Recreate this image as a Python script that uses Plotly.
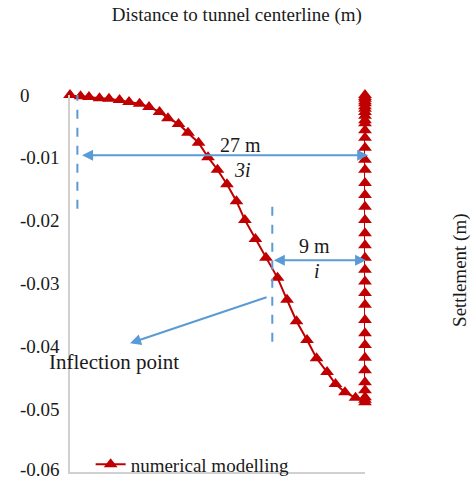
import plotly.graph_objects as go

# Settlement trough (distance from centerline, m ; settlement, m)
curve_x = [-28.0, -27.0, -26.2, -25.2, -24.3, -23.3, -22.4, -21.4, -20.5, -19.5,
           -18.7, -17.7, -16.8, -15.8, -14.9, -14.0, -13.1, -12.2, -11.4, -10.4,
           -9.4, -8.3, -7.4, -6.5, -5.5, -4.6, -3.6, -2.8, -1.9, -0.9, 0.0]
curve_y = [0.0, -0.0002, -0.0003, -0.0005, -0.0006, -0.0008, -0.0011, -0.0014, -0.0019, -0.0027,
           -0.0037, -0.0046, -0.0060, -0.0076, -0.0099, -0.0119, -0.0142, -0.0169, -0.0199, -0.0229,
           -0.0259, -0.0291, -0.0326, -0.0360, -0.0390, -0.0419, -0.0441, -0.0460, -0.0473, -0.0482, -0.0485]
# points along the centerline (bottom to top)
center_y = [-0.0489, -0.0481, -0.0470, -0.0457, -0.0438, -0.0418, -0.0398, -0.0379, -0.0358, -0.0334,
            -0.0315, -0.0297, -0.0278, -0.0259, -0.0239, -0.0220, -0.0199, -0.0178, -0.0159, -0.0140,
            -0.0119, -0.0103, -0.0084, -0.0068, -0.0056, -0.0045, -0.0040, -0.0033, -0.0027, -0.0022,
            -0.0018, -0.0013, -0.0010, -0.0006, -0.0003, 0.0]
center_x = [0.0] * len(center_y)

y_ticks = [0, -0.01, -0.02, -0.03, -0.04, -0.05, -0.06]
y_tick_labels = ["0", "-0.01", "-0.02", "-0.03", "-0.04", "-0.05", "-0.06"]

x_all = curve_x + center_x
y_all = curve_y + center_y

RED = "#C00000"
BLUE = "#5B9BD5"
FONT = "Liberation Serif, Times New Roman, serif"
TXT = "#1a1a1a"

fig = go.Figure()
fig.add_trace(go.Scatter(
    x=x_all, y=y_all, mode="lines+markers", name="numerical modelling",
    line=dict(color=RED, width=2),
    marker=dict(symbol="triangle-up", size=12, color=RED),
    cliponaxis=False,
))

annotations = []
for v, t in zip(y_ticks, y_tick_labels):
    annotations.append(dict(x=-0.176, xref="paper", y=v, yref="y", text=t, showarrow=False,
                            xanchor="left", yanchor="middle", yshift=(3 if v == -0.06 else 0),
                            font=dict(size=19, color=TXT, family=FONT)))

# arrows
annotations += [
    dict(x=0.3, y=-0.0096, ax=-27.0, ay=-0.0096, xref="x", yref="y", axref="x", ayref="y",
         text="", showarrow=True, arrowhead=2, startarrowhead=2, arrowside="end+start",
         arrowsize=1.1, startarrowsize=1.1, arrowwidth=2, arrowcolor=BLUE, standoff=0, startstandoff=0),
    dict(x=0.1, y=-0.0263, ax=-8.8, ay=-0.0263, xref="x", yref="y", axref="x", ayref="y",
         text="", showarrow=True, arrowhead=2, startarrowhead=2, arrowside="end+start",
         arrowsize=1.1, startarrowsize=1.1, arrowwidth=2, arrowcolor=BLUE, standoff=0, startstandoff=0),
    dict(x=-22.3, y=-0.0395, ax=-9.2, ay=-0.0321, xref="x", yref="y", axref="x", ayref="y",
         text="", showarrow=True, arrowhead=2, arrowsize=1.1, arrowwidth=2, arrowcolor=BLUE, standoff=0),
]
# texts
annotations += [
    dict(x=-11.8, y=-0.0080, xref="x", yref="y", text="27 m", showarrow=False,
         font=dict(size=20, color=TXT, family=FONT)),
    dict(x=-11.6, y=-0.0119, xref="x", yref="y", text="<i>3i</i>", showarrow=False,
         font=dict(size=20, color=TXT, family=FONT)),
    dict(x=-4.8, y=-0.0240, xref="x", yref="y", text="9 m", showarrow=False,
         font=dict(size=20, color=TXT, family=FONT)),
    dict(x=-4.6, y=-0.0280, xref="x", yref="y", text="<i>i</i>", showarrow=False,
         font=dict(size=20, color=TXT, family=FONT)),
    dict(x=-0.078, xref="paper", y=-0.0425, yref="y", text="Inflection point", showarrow=False,
         xanchor="left", yanchor="middle", font=dict(size=21, color=TXT, family=FONT)),
    dict(x=1.322, xref="paper", y=0.536, yref="paper", text="Settlement (m)", showarrow=False,
         textangle=-90, xanchor="center", yanchor="middle", font=dict(size=19, color=TXT, family=FONT)),
]

shapes = [
    dict(type="line", x0=-27.3, x1=-27.3, y0=0.0005, y1=-0.0188, xref="x", yref="y",
         line=dict(color=BLUE, width=2, dash="dash")),
    dict(type="line", x0=-8.8, x1=-8.8, y0=-0.0178, y1=-0.0401, xref="x", yref="y",
         line=dict(color=BLUE, width=2, dash="dash")),
]

fig.update_layout(
    width=471, height=480,
    margin=dict(l=70, r=106, t=95, b=8, autoexpand=False),
    paper_bgcolor="white", plot_bgcolor="white",
    font=dict(family=FONT, size=19, color=TXT),
    title=dict(text="Distance to tunnel centerline (m)", x=0.503, xref="container", y=0.971,
               yref="container", yanchor="middle", xanchor="center",
               font=dict(size=19, color=TXT, family=FONT)),
    xaxis=dict(range=[-28, 0], showgrid=False, zeroline=False, showticklabels=False, ticks="",
               showline=True, linecolor="#D0D0D0", linewidth=2),
    yaxis=dict(range=[-0.06, 0], showgrid=False, zeroline=False, showticklabels=False, ticks="",
               showline=True, linecolor="#D0D0D0", linewidth=2),
    showlegend=True,
    legend=dict(x=0.07, y=0.02, xanchor="left", yanchor="middle", bgcolor="rgba(0,0,0,0)",
                font=dict(size=19, color=TXT, family=FONT)),
    annotations=annotations,
    shapes=shapes,
)

fig.write_html("out.html", config={"displayModeBar": False},
               post_script="document.body.style.margin='0';")
